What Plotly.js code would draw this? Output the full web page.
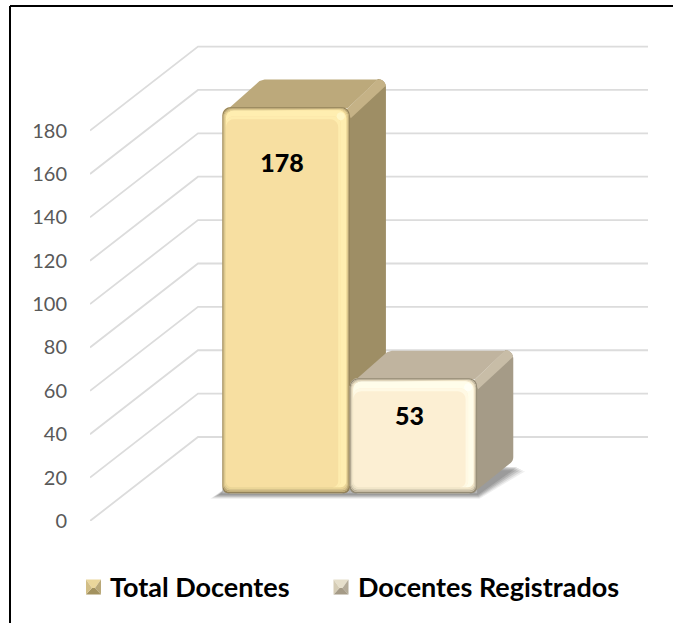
<!DOCTYPE html>
<html><head><meta charset="utf-8">
<script src="https://cdn.plot.ly/plotly-3.0.1.min.js"></script>
<style>html,body{margin:0;padding:0;background:#fff}#c{width:673px;height:623px}</style>
</head><body><div id="c"></div>
<script>
// ---- data ----
const seriesNames = ['Total Docentes', 'Docentes Registrados'];
const seriesValues = [178, 53];
const tickValues = [0, 20, 40, 60, 80, 100, 120, 140, 160, 180];

// ---- page geometry ----
const W = 673, H = 623;
const plotL = 90, plotR = 648, plotT = 30, zeroPx = 521;
const pxPerUnit = 2.169, pxPerX = 450;           // scales of the two axes
const gx = p => p / pxPerX, gy = p => p / pxPerUnit;
const xRange = [0, (plotR - plotL) / pxPerX];
const yRange = [0, (zeroPx - plotT) / pxPerUnit];

// ---- oblique projection of the 3D box ----
const wallDX = gx(108), wallDY = gy(84);         // full depth of the floor
const nearD = 0.33, farD = 0.665;                // bars sit in the middle third
const barWidth = 0.283, groupCentre = 0.498;
const labelDrop = [gy(59), gy(40)], labelShift = [gx(-4), gx(-4)];

// ---- styles ----
const styles = [
 {fill:'#F7DFA1', top:'#BCA97B', side:'#9E8E65', bevel:'#C5B286',
  rings:[['#93825A',0,0,0,0],['#BBA876',1,1,1,1.5],['#D8C48C',1.8,1.6,1.8,3],['#EAD596',2.6,2.2,2.6,4.5],['#FFEEB0',3.5,3,3.5,6],['#FEECAE',3.5,9,9,6]],
  hole:[3.5,12,11.5,6], hot:'#FFF6C6'},
 {fill:'#FCEFD3', top:'#C0B49F', side:'#A59B87', bevel:'#C8BDA7',
  rings:[['#948B75',0,0,0,0],['#BDB39B',1,1,1,1.5],['#DCD2B8',1.8,1.6,1.8,3],['#F0E5C8',2.6,2.2,2.6,4.5],['#FFFDEA',3.5,3,3.5,6],['#FFF9E4',3.5,10,9,6]],
  hole:[3.5,13,11.5,6], hot:'#FFFFF6'}
];
const cornerColor = '#B4B4B4';

// ---- polygon helpers (data coordinates) ----
function arc(cx, cy, rx, ry, a0, a1) {
  const out = [];
  for (let i = 0; i <= 5; i++) {
    const a = (a0 + (a1 - a0) * i / 5) * Math.PI / 180;
    out.push([cx + rx * Math.cos(a), cy + ry * Math.sin(a)]);
  }
  return out;
}
// rounded rectangle, clockwise on screen, from bottom-left
function rrect(x0, x1, y0, y1, rTop, rBot) {
  const tx = gx(rTop), ty = gy(rTop), bx = gx(rBot), by = gy(rBot);
  return [].concat(
    arc(x0 + bx, y0 + by, bx, by, 270, 180),
    arc(x0 + tx, y1 - ty, tx, ty, 180, 90),
    arc(x1 - tx, y1 - ty, tx, ty, 90, 0),
    arc(x1 - bx, y0 + by, bx, by, 0, -90));
}
function poly(pts, color, xa, ya) {
  return {type:'scatter', mode:'none', fill:'toself', fillcolor:color, xaxis:xa, yaxis:ya,
    x:pts.map(p => p[0]), y:pts.map(p => p[1]), hoverinfo:'skip', showlegend:false,
    line:{simplify:false, width:0}};
}

const traces = [];
const axisSuffix = ['', '2'];
const legendIds = ['legend', 'legend2'];

seriesValues.forEach((value, i) => {
  const st = styles[i], xa = 'x' + axisSuffix[i], ya = 'y' + axisSuffix[i];
  const offX = wallDX * nearD, baseY = wallDY * nearD;
  const depthX = wallDX * (farD - nearD), depthY = wallDY * (farD - nearD);
  const x0 = groupCentre + (i === 0 ? -barWidth : 0) + offX, x1 = x0 + barWidth;
  const y0 = baseY, y1 = baseY + value;

  // front face: a real bar from the value
  traces.push({type:'bar', name:seriesNames[i], x:[(x0 + x1) / 2], y:[value], base:[baseY], width:[barWidth],
    xaxis:xa, yaxis:ya, marker:{color:st.fill, line:{width:0}}, hoverinfo:'name+y', showlegend:false});

  // side face with rounded far corners
  const r = 8, rx = gx(r), ry = gy(r);
  const side = [[x1 - gx(1), y1 - gy(8)]].concat(
    [[x1 + depthX - rx, y1 + depthY]],
    arc(x1 + depthX - rx, y1 + depthY - ry, rx, ry, 90, 0),
    arc(x1 + depthX - rx, y0 + depthY + ry, rx, ry, 0, -60),
    [[x1 - gx(3), y0 + gy(1)]]);
  traces.push(poly(side, st.side, xa, ya));
  // top face
  const top = [[x0 + gx(2), y1 - gy(5)], [x0 + depthX + gx(1), y1 + depthY - gy(2)], [x0 + depthX + gx(6), y1 + depthY - gy(.5)],
    [x1 + depthX - rx, y1 + depthY - gy(.5)], [x1 - gx(2), y1 - gy(1)]];
  traces.push(poly(top, st.top, xa, ya));
  // lit edge between top and side
  const bev = [[x1 - gx(3), y1 - gy(2)], [x1 + depthX - gx(9), y1 + depthY - gy(1)]].concat(
    arc(x1 + depthX - rx, y1 + depthY - ry, rx, ry, 80, 10),
    [[x1 + gx(1), y1 - gy(11)]]);
  traces.push(poly(bev, st.bevel, xa, ya));

  // square bottom corners of the bar are trimmed to a round corner
  const cr = 6, cx = gx(cr), cy = gy(cr);
  traces.push(poly([[x0, y0]].concat(arc(x0 + cx, y0 + cy, cx, cy, 180, 270)), cornerColor, xa, ya));
  traces.push(poly([[x1, y0]].concat(arc(x1 - cx, y0 + cy, cx, cy, 0, -90)), cornerColor, xa, ya));

  // bevelled rim of the front face, outermost first, each ring leaves a hole
  const inset = s => rrect(x0 + gx(s[0]), x1 - gx(s[2]), y0 + gy(s[3]), y1 - gy(s[1]), 8, 6);
  st.rings.forEach((ring, k) => {
    const a = ring.slice(1), next = k + 1 < st.rings.length ? st.rings[k + 1].slice(1) : st.hole;
    const o = inset(a), n = inset(next).slice().reverse();
    traces.push(poly(o.concat([o[0]], [n[n.length - 1]], n, [n[0]]), ring[0], xa, ya));
  });
  // hot spot where the lit edges meet
  const hs = rrect(x1 - gx(13), x1 - gx(5), y1 - gy(13), y1 - gy(5), 4, 4);
  traces.push(poly(hs, st.hot, xa, ya));

  // value label
  traces.push({type:'scatter', mode:'text', x:[(x0 + x1) / 2 + labelShift[i]], y:[y1 - labelDrop[i]], text:[String(value)],
    textposition:'middle center', textfont:{family:'Lato, "Open Sans", sans-serif', size:25, color:'#000', weight:900},
    xaxis:xa, yaxis:ya, hoverinfo:'skip', showlegend:false});

  // legend entry: swatch is drawn separately as a bevelled square
  traces.push({type:'bar', name:seriesNames[i], x:[groupCentre], y:[0], xaxis:xa, yaxis:ya, legend:legendIds[i],
    marker:{color:'rgba(0,0,0,0)'}, hoverinfo:'skip', showlegend:true});
});

// ---- shapes: wall/floor grid + floor shadow + frame + legend keys ----
const shapes = [];
const gridPath = v => `M ${0} ${v} L ${wallDX} ${v + wallDY} L ${xRange[1]} ${v + wallDY}`;
tickValues.forEach(v => shapes.push({type:'path', xref:'x', yref:'y', layer:'below', path:gridPath(v),
  line:{color:'#DCDCDC', width:1.8}}));

// shadow: stacked translucent parallelograms give a soft edge
const sx0 = groupCentre - barWidth + wallDX * nearD, sx1 = groupCentre + barWidth + wallDX * nearD;
const sy = wallDY * nearD;
[[12, .1], [10, .14], [8, .18], [6, .2], [4, .22]].forEach(([g, a]) => {
  const dx = wallDX * (farD - nearD), dy = wallDY * (farD - nearD);
  const A = [sx0 - gx(g), sy - gy(g * .45)], B = [sx1 + gx(g * .2), sy - gy(g * .45)],
        C = [sx1 + dx + gx(g), sy + dy - gy(g * .5)], D = [sx0 + dx, sy + dy];
  shapes.push({type:'path', xref:'x', yref:'y', layer:'below', fillcolor:`rgba(90,90,90,${a})`, line:{width:0},
    path:`M ${A} L ${B} L ${C} L ${D} Z`});
});

// frame: top and left rules only
const paperX = p => (p - plotL) / (plotR - plotL), paperY = p => (zeroPx - p) / (zeroPx - plotT);
[[10, 6, W, 6], [10, 6, 10, H]].forEach(([a, b, c, d]) => shapes.push({type:'line', xref:'paper', yref:'paper',
  x0:paperX(a), x1:paperX(c), y0:paperY(b), y1:paperY(d), line:{color:'#000', width:2}, layer:'above'}));

// bevelled legend squares
function key(cx, cy, cols) {
  const s = 7.5, tl = [cx - s, cy - s], tr = [cx + s, cy - s], br = [cx + s, cy + s], bl = [cx - s, cy + s];
  const inner = [[cx - 1.5, cy + 1], [cx + 1.5, cy + 1]];
  [[tl, tr, inner[1], inner[0], cols[0]], [tr, br, inner[1], null, cols[1]], [bl, br, inner[1], inner[0], cols[2]], [tl, bl, inner[0], null, cols[3]]]
  .forEach(f => {
    const pts = f.slice(0, 4).filter(Boolean).map(p => `${paperX(p[0])} ${paperY(p[1])}`);
    shapes.push({type:'path', xref:'paper', yref:'paper', layer:'above', fillcolor:f[4], line:{width:0},
      path:'M ' + pts.join(' L ') + ' Z'});
  });
}
key(93.5, 587, ['#EAD69B', '#B9A878', '#A3925F', '#D2BE86']);
key(341, 587, ['#E6DFCB', '#B4AB98', '#A59B87', '#D5CCB5']);

const legendBase = {orientation:'h', xanchor:'left', y:paperY(587), yanchor:'middle', itemclick:false, itemdoubleclick:false,
  bgcolor:'rgba(0,0,0,0)', font:{family:'Lato, "Open Sans", sans-serif', size:27, color:'#000', weight:700}};
const axisBase = {fixedrange:true, showgrid:false, zeroline:false, showline:false, ticks:''};
const layout = {
  width:W, height:H, paper_bgcolor:'#fff', plot_bgcolor:'rgba(0,0,0,0)',
  margin:{l:plotL, r:W - plotR, t:plotT, b:H - zeroPx, pad:0},
  barmode:'overlay', barcornerradius:8, showlegend:true,
  legend:{...legendBase, x:paperX(70)},
  legend2:{...legendBase, x:paperX(318)},
  xaxis:{...axisBase, range:xRange, showticklabels:false, type:'linear'},
  yaxis:{...axisBase, range:yRange, tickmode:'array', tickvals:tickValues, ticktext:tickValues.map(String),
    ticklabelstandoff:22, tickfont:{family:'Lato, "Open Sans", sans-serif', size:20, color:'#595959'}},
  xaxis2:{...axisBase, range:xRange, showticklabels:false, overlaying:'x', type:'linear'},
  yaxis2:{...axisBase, range:yRange, showticklabels:false, overlaying:'y'},
  shapes:shapes
};
Plotly.newPlot('c', traces, layout, {displayModeBar:false, staticPlot:true});
</script></body></html>
